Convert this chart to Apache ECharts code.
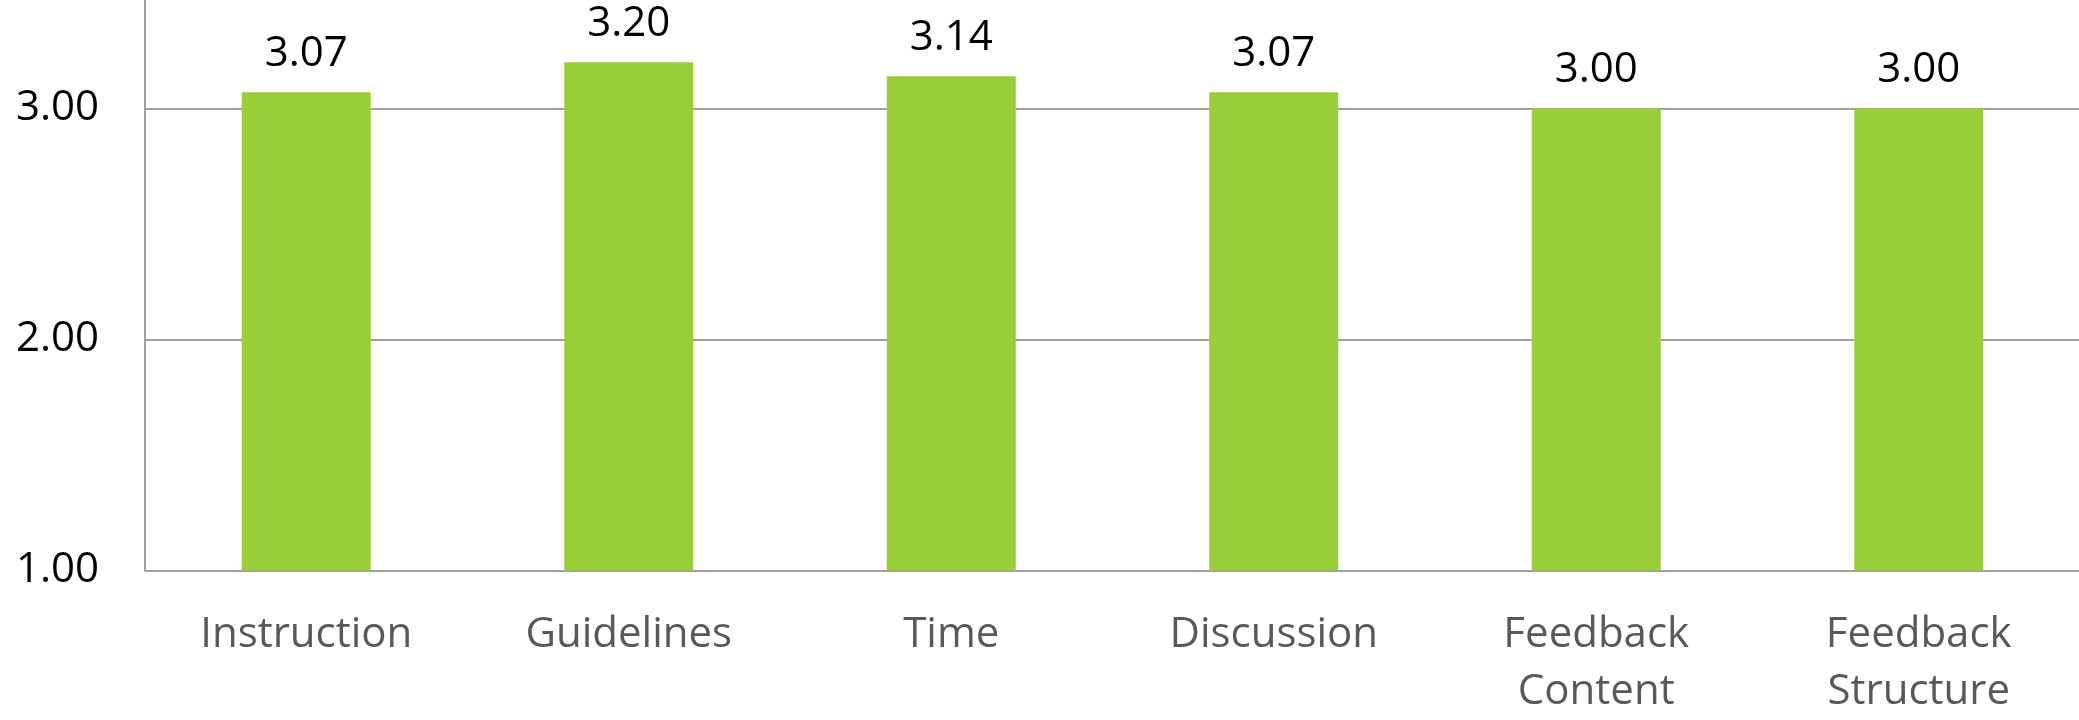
<!DOCTYPE html>
<html>
<head>
<meta charset="utf-8">
<title>chart</title>
<script src="https://cdn.jsdelivr.net/npm/echarts@6/dist/echarts.min.js"></script>
<style>
    html, body { margin: 0; padding: 0; background: #fff; }
    #main { width: 2079px; height: 720px; }
</style>
</head>
<body>
<div id="main"></div>
<script>
// data
var categories = ['Instruction', 'Guidelines', 'Time', 'Discussion', 'Feedback\nContent', 'Feedback\nStructure'];
var scores = [3.07, 3.20, 3.14, 3.07, 3.00, 3.00];
var yTicks = [1, 2, 3, 4];

var myChart = echarts.init(document.getElementById('main'));
var option = {
    animation: false,
    // top is negative: the 4.00 row sits above the visible area
    grid: { left: 145, right: -1, top: -122.5, bottom: 149.5, containLabel: false, outerBoundsMode: 'none' },
    xAxis: [{
        type: 'category',
        data: categories,
        axisLine: { show: true, lineStyle: { color: '#a0a0a0', width: 2 } },
        axisTick: { show: false },
        axisLabel: {
            margin: 36,
            color: '#595959',
            fontFamily: 'Open Sans',
            fontSize: 42,
            lineHeight: 57
        }
    }],
    yAxis: [{
        type: 'value',
        min: yTicks[0],
        max: yTicks[yTicks.length - 1],
        interval: 1,
        axisLine: { show: true, lineStyle: { color: '#a0a0a0', width: 2 } },
        axisTick: { show: false },
        splitLine: { show: true, lineStyle: { color: '#a0a0a0', width: 2 } },
        axisLabel: {
            margin: 46,
            color: '#000',
            fontFamily: 'Open Sans',
            fontSize: 42,
            formatter: function (v) { return v.toFixed(2); }
        }
    }],
    series: [{
        type: 'bar',
        data: scores,
        barWidth: '40%',
        itemStyle: { color: '#9acd3a' },
        label: {
            show: true,
            position: 'top',
            distance: 17,
            color: '#000',
            fontFamily: 'Open Sans',
            fontSize: 42,
            formatter: function (p) { return p.value.toFixed(2); }
        }
    }]
};
myChart.setOption(option);
</script>
</body>
</html>
